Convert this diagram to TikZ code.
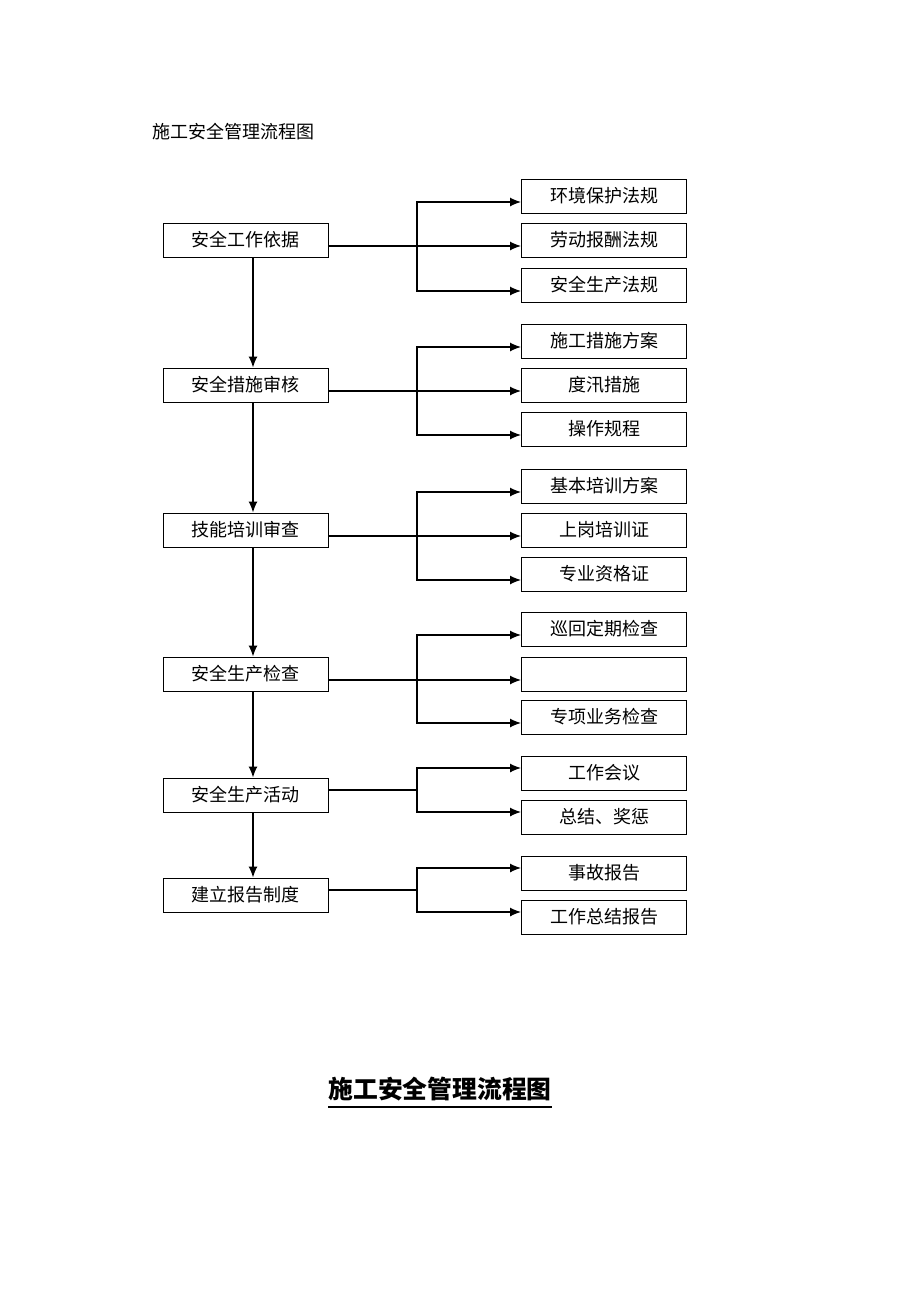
\documentclass[tikz,border=0pt]{standalone}
\usepackage{fontspec}
\setmainfont{Noto Sans CJK SC}
\usetikzlibrary{arrows.meta}

\tikzset{
	stagebox/.style={draw, line width=0.5pt, minimum width=82.5pt, minimum height=17pt, inner sep=0pt, font=\fontsize{9pt}{9pt}\selectfont},
	itembox/.style={stagebox},
	link/.style={line width=0.6pt},
	>={Latex[length=5.5pt,width=4.5pt]}
}

\begin{document}
\begin{tikzpicture}[x=0.5pt,y=-0.5pt]
		\useasboundingbox (0,0) rectangle (920,1302);
		\node[anchor=west, inner sep=0pt, font=\fontsize{9pt}{9pt}\selectfont] (head) at (152,132) {施工安全管理流程图};
		\foreach \n/\y/\t in {1/240/安全工作依据, 2/385/安全措施审核, 3/530/技能培训审查, 4/674/安全生产检查, 5/795/安全生产活动, 6/895/建立报告制度} % left column
		\node[stagebox] (L\n) at (245.5,\y) {\t};
		\foreach \n/\y/\t in {1/196/环境保护法规, 2/240/劳动报酬法规, 3/285/安全生产法规, 4/341/施工措施方案, 5/385/度汛措施, 6/429/操作规程, 7/486/基本培训方案, 8/530/上岗培训证, 9/574/专业资格证, 10/629/巡回定期检查, 11/674/{}, 12/717/专项业务检查, 13/773/工作会议, 14/817/总结、奖惩, 15/873/事故报告, 16/917/工作总结报告} % right column
		\node[itembox] (R\n) at (604,\y) {\t};
		\foreach \a/\b in {1/2,2/3,3/4,4/5,5/6} % edit here for the down arrows
		\draw[link,->] ([xshift=3.75pt]L\a.south) -- ([xshift=3.75pt]L\b.north);
		\foreach \l/\y/\a/\b/\c in {1/246/1/2/3, 2/391/4/5/6, 3/536/7/8/9, 4/680/10/11/12} { % three branches
			\coordinate (F\l) at (417,\y);
			\draw[link,->] ([yshift=-3pt]L\l.east) -- ([yshift=-3pt]R\b.west);
			\draw[link,<->] ([yshift=-3pt]R\a.west) -| (F\l) |- ([yshift=-3pt]R\c.west);
		}
		\foreach \l/\y/\a/\c in {5/790/13/14, 6/890/15/16} { % two branches
			\coordinate (F\l) at (417,\y);
			\draw[link] ([yshift=2.5pt]L\l.east) -- (F\l);
			\draw[link,<->] ([yshift=2.5pt]R\a.west) -| (F\l) |- ([yshift=2.5pt]R\c.west);
		}
		\node[font=\fontsize{12.4pt}{12.4pt}\selectfont\bfseries, inner sep=0pt] (title) at (440,1089) {施工安全管理流程图};
		\draw[line width=1pt] ([yshift=-3pt]title.south west) -- ([yshift=-3pt]title.south east);
\end{tikzpicture}
\end{document}
